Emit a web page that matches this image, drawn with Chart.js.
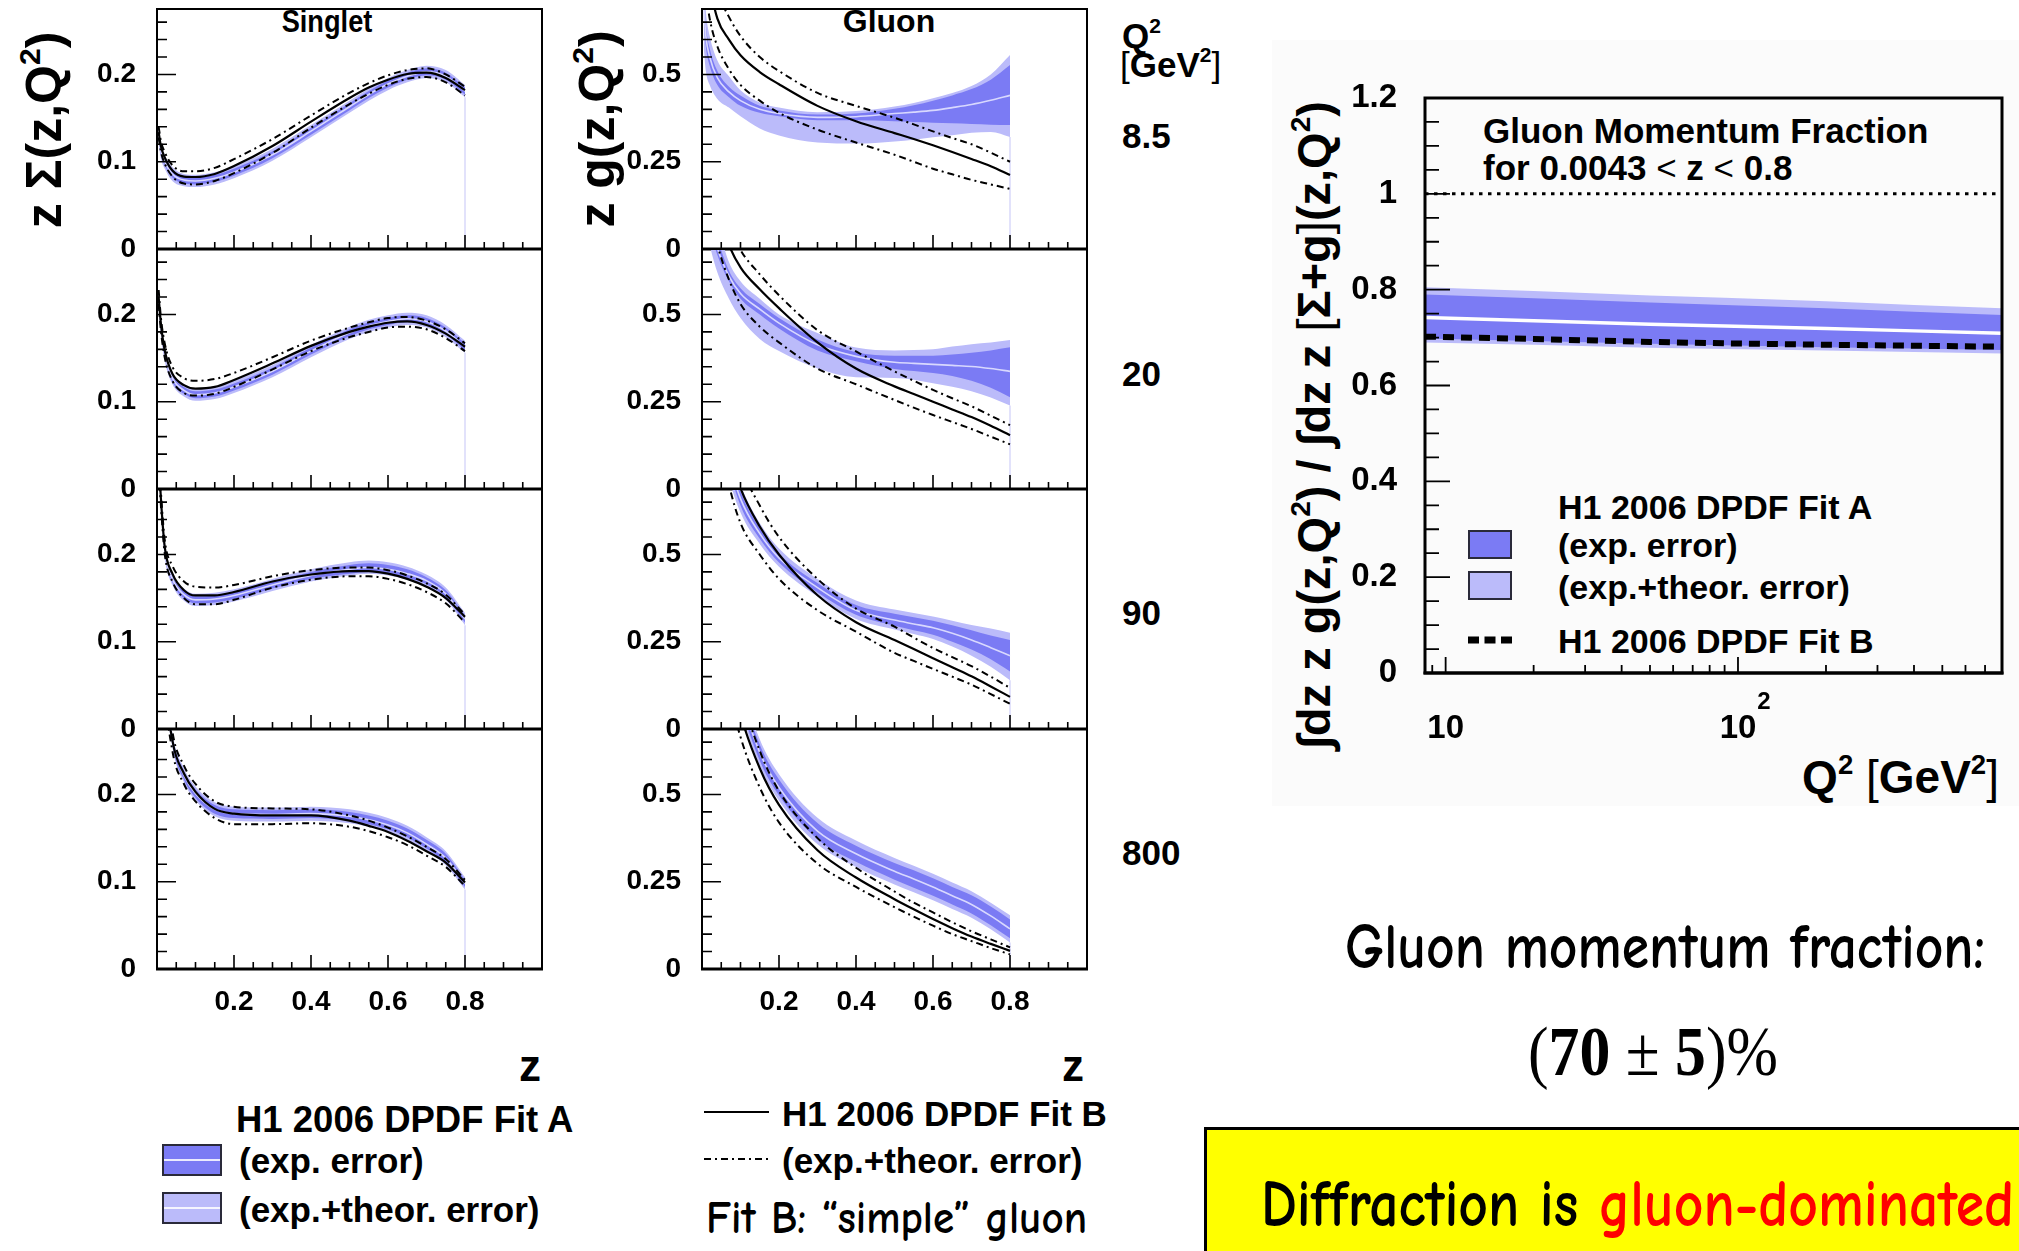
<!DOCTYPE html>
<html>
<head>
<meta charset="utf-8">
<title>H1 2006 DPDF – singlet and gluon densities</title>
<script src="https://cdn.jsdelivr.net/npm/chart.js@4.4.1/dist/chart.umd.min.js"></script>
<style>
  html, body { margin:0; padding:0; background:#fff; }
  body { position:relative; width:2019px; height:1251px; overflow:hidden; }
  canvas { position:absolute; }
  .txt { position:absolute; white-space:nowrap; line-height:1; color:#000; }
  .root { font-family:'Liberation Sans', Arial, Helvetica, sans-serif; font-weight:bold; }
  .hand { font-family:'Comic Sans MS','Comic Neue','Open Sans',sans-serif; font-weight:bold; }
  .vc { transform:translateY(-50%); transform-origin:left center; }
  .rot { transform:translate(-50%,-50%) rotate(-90deg); }
  .thin { font-weight:normal; }
  sup { font-size:0.6em; vertical-align:0; position:relative; top:-0.7em; }
  .swatch { position:absolute; box-sizing:border-box; border:2px solid #2a2a3a; }
  .swatch.mid::after { content:''; position:absolute; left:0; right:0; top:50%; height:2px; margin-top:-1px; background:rgba(255,255,255,0.85); }
</style>
</head>
<body>
<div style="position:absolute;left:1272px;top:40px;width:747px;height:766px;background:#fbfbfb"></div>

<!-- column headings -->
<div class="txt root" style="left:327px;top:21px;font-size:32px;transform:translate(-50%,-50%) scaleX(0.85)">Singlet</div>
<div class="txt root" style="left:889px;top:21px;font-size:32px;transform:translate(-50%,-50%)">Gluon</div>
<div class="txt root rot" style="left:44px;top:130px;font-size:50px">z Σ(z,Q<sup>2</sup>)</div>
<div class="txt root rot" style="left:597px;top:129px;font-size:50px">z g(z,Q<sup>2</sup>)</div>

<!-- Q² column -->
<div class="txt root vc" style="left:1122px;top:35px;font-size:35px">Q<sup>2</sup></div>
<div class="txt root vc" style="left:1120px;top:64px;font-size:35px"><span class="thin">[</span>GeV<sup>2</sup><span class="thin">]</span></div>
<div class="txt root vc" style="left:1122px;top:135px;font-size:35px">8.5</div>
<div class="txt root vc" style="left:1122px;top:373px;font-size:35px">20</div>
<div class="txt root vc" style="left:1122px;top:612px;font-size:35px">90</div>
<div class="txt root vc" style="left:1122px;top:852px;font-size:35px">800</div>

<!-- z axis titles -->
<div class="txt root" style="left:530px;top:1066px;font-size:44px;transform:translate(-50%,-50%)">z</div>
<div class="txt root" style="left:1073px;top:1066px;font-size:44px;transform:translate(-50%,-50%)">z</div>

<!-- Fit A legend -->
<div class="txt root vc" style="left:236px;top:1120px;font-size:36.5px">H1 2006 DPDF Fit A</div>
<div class="swatch mid" style="left:162px;top:1144px;width:60px;height:32px;background:#7b7bf4"></div>
<div class="swatch mid" style="left:162px;top:1192px;width:60px;height:32px;background:#bbbbfa"></div>
<div class="txt root vc" style="left:239px;top:1160px;font-size:35px">(exp. error)</div>
<div class="txt root vc" style="left:239px;top:1209px;font-size:35px">(exp.+theor. error)</div>

<!-- Fit B legend -->
<svg style="position:absolute;left:700px;top:1100px" width="80" height="70">
  <line x1="4" y1="12" x2="69" y2="12" stroke="#000" stroke-width="2"/>
  <line x1="4" y1="59" x2="69" y2="59" stroke="#000" stroke-width="2" stroke-dasharray="7 4 2 4"/>
</svg>
<div class="txt root vc" style="left:782px;top:1113px;font-size:35px">H1 2006 DPDF Fit B</div>
<div class="txt root vc" style="left:782px;top:1160px;font-size:35px">(exp.+theor. error)</div>
<div class="txt hand vc" data-fit="381" style="left:706px;top:1219px;font-size:46px">Fit B: “simple” gluon</div>

<!-- momentum fraction chart annotations -->
<div class="txt root vc" style="left:1483px;top:130px;font-size:35px">Gluon Momentum Fraction</div>
<div class="txt root vc" style="left:1483px;top:167px;font-size:35px">for 0.0043 <span class="thin">&lt;</span> z <span class="thin">&lt;</span> 0.8</div>
<div class="txt root vc" style="left:1558px;top:507px;font-size:34px">H1 2006 DPDF Fit A</div>
<div class="swatch" style="left:1468px;top:530px;width:44px;height:29px;background:#7b7bf4"></div>
<div class="swatch" style="left:1468px;top:571px;width:44px;height:29px;background:#bbbbfa"></div>
<div class="txt root vc" style="left:1558px;top:545px;font-size:34px">(exp. error)</div>
<div class="txt root vc" style="left:1558px;top:587px;font-size:34px">(exp.+theor. error)</div>
<svg style="position:absolute;left:1460px;top:628px" width="60" height="24">
  <line x1="8" y1="12" x2="52" y2="12" stroke="#000" stroke-width="7" stroke-dasharray="11 5.5"/>
</svg>
<div class="txt root vc" style="left:1558px;top:641px;font-size:34px">H1 2006 DPDF Fit B</div>
<div class="txt root rot" style="left:1313px;top:425px;font-size:47px">∫dz z g(z,Q<sup>2</sup>) / ∫dz z <span class="thin">[</span>Σ+g<span class="thin">]</span>(z,Q<sup>2</sup>)</div>
<div class="txt root vc" style="right:20px;top:777px;font-size:46px">Q<sup>2</sup> <span class="thin">[</span>GeV<sup>2</sup><span class="thin">]</span></div>

<!-- summary -->
<div class="txt hand vc" data-fit="640" style="left:1345px;top:947px;font-size:64px">Gluon momentum fraction:</div>
<div class="txt vc" data-fit="250" style="left:1528px;top:1052px;font-size:70px;font-family:'Liberation Serif','DejaVu Serif',serif">(<b>70</b> ± <b>5</b>)%</div>
<div style="position:absolute;left:1204px;top:1127px;width:830px;height:140px;box-sizing:border-box;border:3px solid #000;background:#ffff00"></div>
<div class="txt hand vc" data-fit="753" style="left:1261px;top:1205px;font-size:66px">Diffraction is <span style="color:#ff0000">gluon-dominated</span></div>

<script>
// ---- z grid of the parton densities ----
const zGrid = [0.0043, 0.01, 0.02, 0.04, 0.07, 0.1, 0.15, 0.2, 0.3, 0.4, 0.5, 0.55, 0.6, 0.65, 0.7, 0.75, 0.8];

// ---- singlet z·Σ(z,Q²), Q² = 8.5 GeV² ----
const sgl8_aMid   = [0.130, 0.113, 0.100, 0.086, 0.079, 0.078, 0.081, 0.088, 0.108, 0.135, 0.163, 0.177, 0.189, 0.198, 0.203, 0.198, 0.181];
const sgl8_aExpLo = [0.125, 0.109, 0.096, 0.082, 0.075, 0.074, 0.077, 0.084, 0.104, 0.131, 0.159, 0.173, 0.185, 0.194, 0.199, 0.194, 0.177];
const sgl8_aExpHi = [0.135, 0.117, 0.104, 0.090, 0.083, 0.082, 0.085, 0.092, 0.112, 0.139, 0.167, 0.181, 0.193, 0.202, 0.207, 0.202, 0.185];
const sgl8_aTotLo = [0.120, 0.104, 0.092, 0.078, 0.072, 0.071, 0.074, 0.081, 0.101, 0.128, 0.156, 0.170, 0.182, 0.191, 0.196, 0.191, 0.174];
const sgl8_aTotHi = [0.140, 0.122, 0.108, 0.094, 0.086, 0.085, 0.088, 0.095, 0.115, 0.142, 0.170, 0.184, 0.196, 0.205, 0.210, 0.205, 0.188];
const sgl8_bMid   = [0.134, 0.118, 0.105, 0.090, 0.083, 0.0825, 0.086, 0.095, 0.118, 0.146, 0.173, 0.185, 0.194, 0.2005, 0.202, 0.196, 0.182];
const sgl8_bHi    = [0.140, 0.124, 0.111, 0.096, 0.089, 0.089, 0.093, 0.103, 0.126, 0.153, 0.179, 0.190, 0.199, 0.205, 0.207, 0.200, 0.186];
const sgl8_bLo    = [0.128, 0.112, 0.098, 0.083, 0.075, 0.074, 0.078, 0.087, 0.110, 0.139, 0.166, 0.178, 0.188, 0.195, 0.197, 0.191, 0.176];

// ---- singlet, Q² = 20 GeV² ----
const sgl20_aMid   = [0.215, 0.185, 0.155, 0.127, 0.113, 0.108, 0.110, 0.117, 0.135, 0.158, 0.179, 0.187, 0.192, 0.195, 0.192, 0.181, 0.163];
const sgl20_aExpLo = [0.210, 0.181, 0.151, 0.123, 0.109, 0.104, 0.106, 0.113, 0.131, 0.154, 0.175, 0.183, 0.188, 0.191, 0.188, 0.177, 0.159];
const sgl20_aExpHi = [0.220, 0.189, 0.159, 0.131, 0.117, 0.112, 0.114, 0.121, 0.139, 0.162, 0.183, 0.191, 0.196, 0.199, 0.196, 0.185, 0.167];
const sgl20_aTotLo = [0.205, 0.177, 0.147, 0.120, 0.106, 0.101, 0.103, 0.110, 0.128, 0.151, 0.172, 0.180, 0.185, 0.188, 0.185, 0.174, 0.156];
const sgl20_aTotHi = [0.225, 0.193, 0.163, 0.134, 0.120, 0.115, 0.117, 0.124, 0.142, 0.165, 0.186, 0.194, 0.199, 0.202, 0.199, 0.188, 0.170];
const sgl20_bMid   = [0.220, 0.190, 0.159, 0.132, 0.119, 0.115, 0.117, 0.125, 0.144, 0.164, 0.180, 0.186, 0.1905, 0.192, 0.188, 0.178, 0.163];
const sgl20_bHi    = [0.228, 0.197, 0.167, 0.140, 0.127, 0.124, 0.126, 0.133, 0.151, 0.170, 0.185, 0.191, 0.196, 0.197, 0.193, 0.183, 0.167];
const sgl20_bLo    = [0.212, 0.182, 0.151, 0.124, 0.110, 0.107, 0.109, 0.117, 0.137, 0.158, 0.174, 0.180, 0.185, 0.186, 0.183, 0.173, 0.158];

// ---- singlet, Q² = 90 GeV² ----
const sgl90_aMid   = [0.310, 0.262, 0.205, 0.172, 0.154, 0.148, 0.149, 0.153, 0.165, 0.176, 0.183, 0.185, 0.183, 0.178, 0.170, 0.155, 0.126];
const sgl90_aExpLo = [0.305, 0.258, 0.201, 0.168, 0.150, 0.144, 0.145, 0.149, 0.161, 0.172, 0.178, 0.180, 0.178, 0.173, 0.166, 0.151, 0.122];
const sgl90_aExpHi = [0.315, 0.266, 0.209, 0.176, 0.158, 0.152, 0.153, 0.157, 0.169, 0.180, 0.188, 0.190, 0.188, 0.183, 0.174, 0.159, 0.130];
const sgl90_aTotLo = [0.300, 0.254, 0.198, 0.165, 0.147, 0.141, 0.142, 0.146, 0.158, 0.169, 0.176, 0.178, 0.176, 0.171, 0.163, 0.148, 0.119];
const sgl90_aTotHi = [0.320, 0.270, 0.212, 0.179, 0.161, 0.155, 0.156, 0.160, 0.172, 0.183, 0.191, 0.193, 0.191, 0.186, 0.177, 0.162, 0.133];
const sgl90_bMid   = [0.310, 0.265, 0.209, 0.178, 0.159, 0.153, 0.153, 0.157, 0.169, 0.177, 0.181, 0.181, 0.178, 0.172, 0.163, 0.150, 0.1285];
const sgl90_bHi    = [0.320, 0.273, 0.217, 0.187, 0.169, 0.163, 0.162, 0.165, 0.175, 0.182, 0.185, 0.185, 0.182, 0.176, 0.167, 0.154, 0.131];
const sgl90_bLo    = [0.300, 0.257, 0.201, 0.169, 0.150, 0.143, 0.143, 0.148, 0.162, 0.171, 0.175, 0.175, 0.172, 0.166, 0.157, 0.144, 0.122];

// ---- singlet, Q² = 800 GeV² ----
const sgl800_aMid   = [0.600, 0.450, 0.340, 0.262, 0.222, 0.201, 0.183, 0.178, 0.177, 0.178, 0.175, 0.171, 0.165, 0.156, 0.143, 0.127, 0.098];
const sgl800_aExpLo = [0.595, 0.445, 0.335, 0.257, 0.217, 0.196, 0.178, 0.173, 0.172, 0.173, 0.170, 0.166, 0.160, 0.151, 0.138, 0.122, 0.094];
const sgl800_aExpHi = [0.605, 0.455, 0.345, 0.267, 0.227, 0.206, 0.188, 0.183, 0.182, 0.183, 0.180, 0.176, 0.170, 0.161, 0.148, 0.132, 0.102];
const sgl800_aTotLo = [0.592, 0.442, 0.332, 0.254, 0.214, 0.193, 0.175, 0.170, 0.169, 0.170, 0.167, 0.163, 0.157, 0.148, 0.135, 0.119, 0.091];
const sgl800_aTotHi = [0.608, 0.458, 0.348, 0.270, 0.230, 0.209, 0.191, 0.186, 0.185, 0.186, 0.183, 0.179, 0.173, 0.164, 0.151, 0.135, 0.105];
const sgl800_bMid   = [0.600, 0.450, 0.340, 0.262, 0.224, 0.203, 0.1835, 0.178, 0.176, 0.176, 0.170, 0.164, 0.157, 0.147, 0.135, 0.122, 0.099];
const sgl800_bHi    = [0.620, 0.465, 0.352, 0.272, 0.233, 0.212, 0.192, 0.186, 0.184, 0.183, 0.176, 0.170, 0.162, 0.152, 0.140, 0.126, 0.102];
const sgl800_bLo    = [0.580, 0.435, 0.328, 0.250, 0.212, 0.192, 0.173, 0.166, 0.166, 0.167, 0.163, 0.158, 0.151, 0.142, 0.130, 0.117, 0.095];

// ---- gluon z·g(z,Q²), Q² = 8.5 GeV² ----
const glu8_aMid   = [0.70, 0.61, 0.55, 0.49, 0.45, 0.425, 0.40, 0.388, 0.377, 0.379, 0.388, 0.392, 0.397, 0.405, 0.414, 0.426, 0.44];
const glu8_aExpLo = [0.66, 0.58, 0.525, 0.47, 0.435, 0.41, 0.39, 0.38, 0.369, 0.369, 0.366, 0.364, 0.362, 0.36, 0.358, 0.356, 0.355];
const glu8_aExpHi = [0.74, 0.64, 0.575, 0.51, 0.465, 0.44, 0.41, 0.397, 0.385, 0.388, 0.402, 0.412, 0.425, 0.44, 0.458, 0.485, 0.527];
const glu8_aTotLo = [0.58, 0.51, 0.47, 0.43, 0.405, 0.38, 0.345, 0.325, 0.305, 0.302, 0.308, 0.313, 0.32, 0.326, 0.333, 0.335, 0.321];
const glu8_aTotHi = [0.78, 0.68, 0.61, 0.54, 0.495, 0.455, 0.42, 0.405, 0.392, 0.395, 0.408, 0.418, 0.432, 0.447, 0.467, 0.50, 0.556];
const glu8_bMid   = [0.95, 0.85, 0.76, 0.66, 0.60, 0.555, 0.507, 0.472, 0.41, 0.366, 0.332, 0.315, 0.297, 0.278, 0.258, 0.237, 0.212];
const glu8_bHi    = [1.10, 0.96, 0.85, 0.74, 0.665, 0.61, 0.55, 0.51, 0.447, 0.41, 0.376, 0.357, 0.337, 0.318, 0.30, 0.276, 0.25];
const glu8_bLo    = [0.82, 0.74, 0.66, 0.58, 0.515, 0.47, 0.425, 0.39, 0.342, 0.305, 0.27, 0.25, 0.23, 0.214, 0.198, 0.185, 0.172];

// ---- gluon, Q² = 20 GeV² ----
const glu20_aMid   = [0.95, 0.86, 0.78, 0.69, 0.61, 0.56, 0.515, 0.475, 0.413, 0.38, 0.363, 0.36, 0.357, 0.354, 0.351, 0.345, 0.337];
const glu20_aExpLo = [0.90, 0.82, 0.75, 0.67, 0.595, 0.545, 0.50, 0.46, 0.397, 0.366, 0.344, 0.338, 0.332, 0.324, 0.31, 0.29, 0.263];
const glu20_aExpHi = [1.00, 0.90, 0.81, 0.72, 0.625, 0.575, 0.53, 0.49, 0.428, 0.392, 0.382, 0.382, 0.382, 0.385, 0.39, 0.397, 0.406];
const glu20_aTotLo = [0.82, 0.76, 0.70, 0.62, 0.545, 0.49, 0.43, 0.395, 0.345, 0.32, 0.318, 0.313, 0.303, 0.293, 0.28, 0.262, 0.239];
const glu20_aTotHi = [1.05, 0.95, 0.85, 0.76, 0.65, 0.595, 0.545, 0.50, 0.447, 0.405, 0.397, 0.398, 0.40, 0.408, 0.415, 0.42, 0.427];
const glu20_bMid   = [1.20, 1.08, 0.95, 0.82, 0.70, 0.635, 0.572, 0.518, 0.42, 0.345, 0.294, 0.272, 0.25, 0.228, 0.206, 0.181, 0.154];
const glu20_bHi    = [1.30, 1.17, 1.05, 0.90, 0.76, 0.685, 0.615, 0.555, 0.455, 0.394, 0.337, 0.31, 0.284, 0.26, 0.237, 0.21, 0.183];
const glu20_bLo    = [1.00, 0.90, 0.80, 0.70, 0.60, 0.53, 0.465, 0.42, 0.345, 0.30, 0.255, 0.233, 0.212, 0.192, 0.172, 0.15, 0.128];

// ---- gluon, Q² = 90 GeV² ----
const glu90_aMid   = [1.60, 1.40, 1.20, 0.95, 0.77, 0.66, 0.56, 0.49, 0.405, 0.34, 0.312, 0.301, 0.29, 0.274, 0.255, 0.233, 0.21];
const glu90_aExpLo = [1.55, 1.36, 1.16, 0.92, 0.75, 0.64, 0.545, 0.477, 0.392, 0.327, 0.296, 0.283, 0.27, 0.25, 0.228, 0.20, 0.165];
const glu90_aExpHi = [1.65, 1.44, 1.24, 0.98, 0.79, 0.68, 0.575, 0.503, 0.418, 0.355, 0.33, 0.32, 0.31, 0.297, 0.283, 0.268, 0.255];
const glu90_aTotLo = [1.50, 1.32, 1.12, 0.89, 0.72, 0.62, 0.53, 0.465, 0.38, 0.315, 0.285, 0.272, 0.258, 0.236, 0.21, 0.178, 0.14];
const glu90_aTotHi = [1.70, 1.48, 1.28, 1.01, 0.81, 0.70, 0.59, 0.517, 0.43, 0.368, 0.342, 0.332, 0.322, 0.31, 0.298, 0.288, 0.276];
const glu90_bMid   = [1.80, 1.55, 1.30, 1.00, 0.80, 0.69, 0.58, 0.50, 0.383, 0.306, 0.255, 0.229, 0.203, 0.177, 0.151, 0.122, 0.092];
const glu90_bHi    = [2.00, 1.70, 1.50, 1.15, 0.90, 0.76, 0.64, 0.55, 0.43, 0.345, 0.293, 0.262, 0.232, 0.206, 0.18, 0.15, 0.118];
const glu90_bLo    = [1.50, 1.30, 1.10, 0.87, 0.70, 0.59, 0.50, 0.43, 0.34, 0.279, 0.218, 0.195, 0.172, 0.15, 0.127, 0.10, 0.072];

// ---- gluon, Q² = 800 GeV² ----
const glu800_aMid   = [3.00, 2.50, 2.00, 1.40, 0.96, 0.79, 0.62, 0.52, 0.395, 0.33, 0.28, 0.258, 0.235, 0.21, 0.185, 0.152, 0.115];
const glu800_aExpLo = [2.95, 2.46, 1.96, 1.37, 0.935, 0.765, 0.597, 0.497, 0.372, 0.307, 0.256, 0.233, 0.21, 0.185, 0.159, 0.125, 0.088];
const glu800_aExpHi = [3.05, 2.54, 2.04, 1.43, 0.985, 0.815, 0.643, 0.543, 0.418, 0.353, 0.304, 0.283, 0.26, 0.235, 0.211, 0.179, 0.142];
const glu800_aTotLo = [2.90, 2.42, 1.93, 1.35, 0.92, 0.75, 0.582, 0.482, 0.357, 0.292, 0.242, 0.22, 0.197, 0.172, 0.147, 0.114, 0.076];
const glu800_aTotHi = [3.10, 2.58, 2.07, 1.45, 1.00, 0.83, 0.658, 0.558, 0.433, 0.368, 0.318, 0.296, 0.273, 0.248, 0.223, 0.19, 0.154];
const glu800_bMid   = [2.50, 2.10, 1.70, 1.20, 0.88, 0.73, 0.575, 0.47, 0.34, 0.262, 0.20, 0.171, 0.143, 0.117, 0.093, 0.072, 0.052];
const glu800_bHi    = [2.80, 2.35, 1.90, 1.35, 0.98, 0.80, 0.625, 0.51, 0.375, 0.29, 0.222, 0.19, 0.162, 0.134, 0.108, 0.085, 0.062];
const glu800_bLo    = [2.20, 1.85, 1.50, 1.05, 0.80, 0.665, 0.52, 0.42, 0.302, 0.235, 0.177, 0.15, 0.124, 0.10, 0.08, 0.06, 0.042];

// ---- gluon momentum fraction vs Q² ----
const fracQ2     = [8.5, 20, 50, 90, 200, 400, 800];
const fracMid    = [0.742, 0.735, 0.728, 0.724, 0.719, 0.714, 0.709];
const fracExpLo  = [0.698, 0.693, 0.687, 0.684, 0.680, 0.677, 0.674];
const fracExpHi  = [0.790, 0.782, 0.773, 0.768, 0.761, 0.754, 0.747];
const fracTotLo  = [0.690, 0.685, 0.679, 0.676, 0.673, 0.670, 0.667];
const fracTotHi  = [0.805, 0.797, 0.788, 0.783, 0.776, 0.768, 0.761];
const fracFitB   = [0.702, 0.697, 0.691, 0.688, 0.685, 0.683, 0.681];
const unityQ2    = [8.5, 800];
const unityLevel = [1, 1];

// ---- axis tick labels ----
const singletTickLabels = ['0', '0.1', '0.2'];
const gluonTickLabels   = ['0', '0.25', '0.5'];
const zTickLabels       = ['0.2', '0.4', '0.6', '0.8'];
const fracTickLabels    = ['0', '0.2', '0.4', '0.6', '0.8', '1', '1.2'];
const q2TickBases       = { 10: '10', 100: '10' };
const q2TickExponents   = { 100: '2' };

// ---------------------------------------------------------------
const DARK = '#7b7bf4';
const LIGHT = '#bbbbfa';
const ROOT_FONT = "'Liberation Sans', Arial, Helvetica, sans-serif";
Chart.defaults.font.family = ROOT_FONT;
Chart.defaults.color = '#000';

const pts = (xs, ys) => xs.map((x, i) => ({ x, y: ys[i] }));
const fmt = v => (Math.abs(v) < 1e-9 ? '0' : String(Number(v.toFixed(2))));

// tick marks drawn inside the frame (major / minor) plus the frame itself
const innerTicks = {
  id: 'innerTicks',
  afterDatasetsDraw(chart, args, o) {
    const { ctx, chartArea: a } = chart;
    const xs = chart.scales.x, ys = chart.scales.y;
    ctx.save();
    ctx.strokeStyle = '#000';
    ctx.lineWidth = o.tickWidth;
    ctx.beginPath();
    xs.ticks.forEach(t => {
      const px = xs.getPixelForValue(t.value);
      if (px < a.left - 0.5 || px > a.right + 0.5) return;
      ctx.moveTo(px, a.bottom);
      ctx.lineTo(px, a.bottom - (t.big ? o.xMajor : o.xMinor));
    });
    ys.ticks.forEach(t => {
      const py = ys.getPixelForValue(t.value);
      ctx.moveTo(a.left, py);
      ctx.lineTo(a.left + (t.big ? o.yMajor : o.yMinor), py);
    });
    ctx.stroke();
    ctx.lineWidth = o.frameWidth;
    ctx.strokeRect(a.left, a.top, a.right - a.left, a.bottom - a.top);
    ctx.lineWidth = o.bottomWidth;
    ctx.beginPath();
    ctx.moveTo(a.left - o.frameWidth / 2, a.bottom);
    ctx.lineTo(a.right + o.frameWidth / 2, a.bottom);
    ctx.stroke();
    ctx.restore();
  },
  // raised exponents on power-of-ten tick labels
  afterDraw(chart, args, o) {
    if (!o.exponents) return;
    const xs = chart.scales.x;
    const { ctx } = chart;
    const base = xs.options.ticks.font;
    ctx.save();
    ctx.fillStyle = '#000';
    Object.keys(o.exponents).forEach(v => {
      const px = xs.getPixelForValue(+v);
      ctx.font = `bold ${base.size}px ${base.family}`;
      const w = ctx.measureText(q2TickBases[v]).width;
      ctx.font = `bold ${Math.round(base.size * 0.72)}px ${base.family}`;
      ctx.textAlign = 'left';
      ctx.textBaseline = 'alphabetic';
      ctx.fillText(o.exponents[v], px + w / 2 + 1, chart.chartArea.bottom + o.expOffset);
    });
    ctx.restore();
  }
};

function tickList(step, count, majorEvery) {
  const list = [];
  for (let i = 0; i <= count; i++) list.push({ value: +(i * step).toFixed(4), big: i % majorEvery === 0 });
  return list;
}

// fixed axis boxes: the plot area is set by the layout padding alone
const fixWidth = w => s => { s.width = w; s.paddingTop = 0; s.paddingBottom = 0; };
const fixHeight = h => s => { s.height = h; s.paddingLeft = 0; s.paddingRight = 0; };

function pdfDatasets(xs, s) {
  const line = (data, extra) => Object.assign({
    data: pts(xs, data), borderWidth: 0, borderColor: 'rgba(0,0,0,0)', pointRadius: 0,
    fill: false, cubicInterpolationMode: 'monotone'
  }, extra);
  const last = xs.length - 1;
  return [
    line(s.aTotHi, { fill: '+1', backgroundColor: LIGHT, order: 6 }),
    line(s.aTotLo, { order: 6 }),
    line(s.aExpHi, { fill: '+1', backgroundColor: DARK, order: 5 }),
    line(s.aExpLo, { order: 5 }),
    line(s.aMid, { borderColor: 'rgba(226,226,255,0.9)', borderWidth: 1.6, order: 4 }),
    line(s.bLo, { borderColor: '#000', borderWidth: 2, borderDash: [7, 4, 2, 4], order: 2 }),
    line(s.bHi, { borderColor: '#000', borderWidth: 2, borderDash: [7, 4, 2, 4], order: 2 }),
    line(s.bMid, { borderColor: '#000', borderWidth: 2.2, order: 1 }),
    // faint edge where the fitted range ends
    { data: [{ x: xs[last], y: 0 }, { x: xs[last], y: s.aTotLo[last] }], borderColor: 'rgba(170,170,245,0.45)',
      borderWidth: 1.5, pointRadius: 0, fill: false, order: 7 }
  ];
}

const COL_LEFT = [157, 702];
const ROW_TOP = [9, 249, 489, 729];
const PW = 385, PH = 240, YAXIS_W = 80;

const panels = [
  { col: 0, row: 0, kind: 'singlet', s: { aMid: sgl8_aMid, aExpLo: sgl8_aExpLo, aExpHi: sgl8_aExpHi, aTotLo: sgl8_aTotLo, aTotHi: sgl8_aTotHi, bMid: sgl8_bMid, bLo: sgl8_bLo, bHi: sgl8_bHi } },
  { col: 0, row: 1, kind: 'singlet', s: { aMid: sgl20_aMid, aExpLo: sgl20_aExpLo, aExpHi: sgl20_aExpHi, aTotLo: sgl20_aTotLo, aTotHi: sgl20_aTotHi, bMid: sgl20_bMid, bLo: sgl20_bLo, bHi: sgl20_bHi } },
  { col: 0, row: 2, kind: 'singlet', s: { aMid: sgl90_aMid, aExpLo: sgl90_aExpLo, aExpHi: sgl90_aExpHi, aTotLo: sgl90_aTotLo, aTotHi: sgl90_aTotHi, bMid: sgl90_bMid, bLo: sgl90_bLo, bHi: sgl90_bHi } },
  { col: 0, row: 3, kind: 'singlet', s: { aMid: sgl800_aMid, aExpLo: sgl800_aExpLo, aExpHi: sgl800_aExpHi, aTotLo: sgl800_aTotLo, aTotHi: sgl800_aTotHi, bMid: sgl800_bMid, bLo: sgl800_bLo, bHi: sgl800_bHi } },
  { col: 1, row: 0, kind: 'gluon', s: { aMid: glu8_aMid, aExpLo: glu8_aExpLo, aExpHi: glu8_aExpHi, aTotLo: glu8_aTotLo, aTotHi: glu8_aTotHi, bMid: glu8_bMid, bLo: glu8_bLo, bHi: glu8_bHi } },
  { col: 1, row: 1, kind: 'gluon', s: { aMid: glu20_aMid, aExpLo: glu20_aExpLo, aExpHi: glu20_aExpHi, aTotLo: glu20_aTotLo, aTotHi: glu20_aTotHi, bMid: glu20_bMid, bLo: glu20_bLo, bHi: glu20_bHi } },
  { col: 1, row: 2, kind: 'gluon', s: { aMid: glu90_aMid, aExpLo: glu90_aExpLo, aExpHi: glu90_aExpHi, aTotLo: glu90_aTotLo, aTotHi: glu90_aTotHi, bMid: glu90_bMid, bLo: glu90_bLo, bHi: glu90_bHi } },
  { col: 1, row: 3, kind: 'gluon', s: { aMid: glu800_aMid, aExpLo: glu800_aExpLo, aExpHi: glu800_aExpHi, aTotLo: glu800_aTotLo, aTotHi: glu800_aTotHi, bMid: glu800_bMid, bLo: glu800_bLo, bHi: glu800_bHi } }
];

function addCanvas(left, top, w, h) {
  const cv = document.createElement('canvas');
  cv.width = w; cv.height = h;
  cv.style.left = left + 'px'; cv.style.top = top + 'px';
  cv.style.width = w + 'px'; cv.style.height = h + 'px';
  document.body.appendChild(cv);
  return cv;
}

panels.forEach(p => {
  const bottomRow = p.row === 3;
  const extraBottom = bottomRow ? 60 : 20;
  const W = YAXIS_W + PW + 8, H = 20 + PH + extraBottom;
  const cv = addCanvas(COL_LEFT[p.col] - YAXIS_W, ROW_TOP[p.row] - 20, W, H);
  const singlet = p.kind === 'singlet';
  const yMax = singlet ? 0.275 : 0.6875;
  const yTicks = singlet ? tickList(0.02, 13, 5) : tickList(0.05, 13, 5);
  const yLabels = singlet ? singletTickLabels : gluonTickLabels;
  const tickFont = { family: ROOT_FONT, size: 28, weight: 'bold' };

  new Chart(cv, {
    type: 'line',
    data: { datasets: pdfDatasets(zGrid, p.s) },
    plugins: [innerTicks],
    options: {
      responsive: false, animation: false, devicePixelRatio: 1,
      layout: { padding: { top: 20, right: 8, bottom: bottomRow ? 0 : 20, left: 0 } },
      plugins: {
        legend: { display: false }, tooltip: { enabled: false },
        innerTicks: { xMajor: 14, xMinor: 7, yMajor: 19, yMinor: 10, tickWidth: 1.6, frameWidth: 2, bottomWidth: 3 }
      },
      scales: {
        x: {
          type: 'linear', min: 0, max: 1,
          grid: { display: false }, border: { display: false },
          afterBuildTicks: s => { s.ticks = tickList(0.05, 20, 4); },
          afterFit: fixHeight(bottomRow ? 60 : 0),
          ticks: {
            display: bottomRow, autoSkip: false, maxRotation: 0, padding: 8, font: tickFont, color: '#000',
            callback: v => { const l = fmt(v); return zTickLabels.includes(l) ? l : ''; }
          }
        },
        y: {
          type: 'linear', min: 0, max: yMax,
          grid: { display: false }, border: { display: false },
          afterBuildTicks: s => { s.ticks = yTicks.map(t => ({ ...t })); },
          afterFit: fixWidth(YAXIS_W),
          ticks: {
            autoSkip: false, padding: 13, font: tickFont, color: '#000',
            callback: (v, i, ticks) => { const l = fmt(v); return ticks[i].big && yLabels.includes(l) ? l : ''; }
          }
        }
      }
    }
  });
});

// ---- gluon momentum fraction chart ----
(function () {
  const left = 1280, top = 60, W = 739, H = 750;
  const plotLeft = 1425, plotRight = 2002, plotTop = 98, plotBottom = 673;
  const cv = addCanvas(left, top, W, H);
  const line = (xs, ys, extra) => Object.assign({
    data: pts(xs, ys), borderWidth: 0, borderColor: 'rgba(0,0,0,0)', pointRadius: 0, fill: false, tension: 0
  }, extra);
  const q2Ticks = [9, 10, 20, 30, 40, 50, 60, 70, 80, 90, 100, 200, 300, 400, 500, 600, 700, 800]
    .map(v => ({ value: v, big: v === 10 || v === 100 }));
  const tickFont = { family: ROOT_FONT, size: 33, weight: 'bold' };

  new Chart(cv, {
    type: 'line',
    data: {
      datasets: [
        line(fracQ2, fracTotHi, { fill: '+1', backgroundColor: LIGHT, order: 6 }),
        line(fracQ2, fracTotLo, { order: 6 }),
        line(fracQ2, fracExpHi, { fill: '+1', backgroundColor: DARK, order: 5 }),
        line(fracQ2, fracExpLo, { order: 5 }),
        line(fracQ2, fracMid, { borderColor: '#ffffff', borderWidth: 3.5, order: 4 }),
        line(fracQ2, fracFitB, { borderColor: '#000', borderWidth: 6, borderDash: [11, 7], order: 2 }),
        line(unityQ2, unityLevel, { borderColor: '#000', borderWidth: 3, borderDash: [3.5, 5.5], order: 1 })
      ]
    },
    plugins: [innerTicks],
    options: {
      responsive: false, animation: false, devicePixelRatio: 1,
      layout: { padding: { top: plotTop - top, right: left + W - plotRight, bottom: 0, left: 0 } },
      plugins: {
        legend: { display: false }, tooltip: { enabled: false },
        innerTicks: { xMajor: 16, xMinor: 8, yMajor: 25, yMinor: 14, tickWidth: 1.8, frameWidth: 3, bottomWidth: 3,
                      exponents: q2TickExponents, expOffset: 36 }
      },
      scales: {
        x: {
          type: 'logarithmic', min: 8.5, max: 800,
          grid: { display: false }, border: { display: false },
          afterBuildTicks: s => { s.ticks = q2Ticks.map(t => ({ ...t })); },
          afterFit: fixHeight(top + H - plotBottom),
          ticks: {
            autoSkip: false, maxRotation: 0, padding: 28, font: tickFont, color: '#000',
            callback: (v, i, ticks) => q2TickBases[ticks[i].value] || ''
          }
        },
        y: {
          type: 'linear', min: 0, max: 1.2,
          grid: { display: false }, border: { display: false },
          afterBuildTicks: s => { s.ticks = tickList(0.05, 24, 4); },
          afterFit: fixWidth(plotLeft - left),
          ticks: {
            autoSkip: false, padding: 20, font: tickFont, color: '#000',
            callback: (v, i, ticks) => { const l = fmt(v); return ticks[i].big && fracTickLabels.includes(l) ? l : ''; }
          }
        }
      }
    }
  });
})();

// stretch hand-written annotations to their intended widths
function fitTexts() {
  document.querySelectorAll('[data-fit]').forEach(el => {
    el.style.transform = 'translateY(-50%)';
    const w = el.getBoundingClientRect().width;
    const k = (+el.dataset.fit) / w;
    el.style.transform = `translateY(-50%) scaleX(${k.toFixed(4)})`;
  });
}
fitTexts();
if (document.fonts && document.fonts.ready) document.fonts.ready.then(fitTexts);
</script>
</body>
</html>
